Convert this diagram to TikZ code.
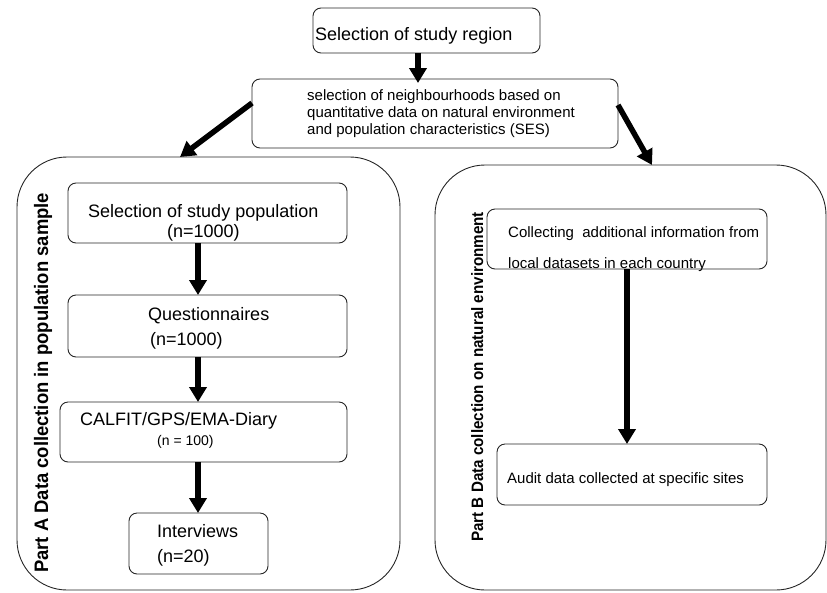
\documentclass[tikz,border=0pt]{standalone}
\usepackage{fontspec}
\setmainfont{Liberation Sans}
\newfontfamily\partAfont[FakeStretch=0.945]{Liberation Sans}
\newfontfamily\partBfont[FakeStretch=0.92]{Liberation Sans}
\usetikzlibrary{arrows.meta}

\tikzset{
  box/.style={draw=black!85, line width=0.9pt, rounded corners=8pt,
              inner sep=0pt, outer sep=0pt, minimum width=#1},
  panel/.style={draw=black!85, line width=0.9pt, rounded corners=50pt,
                inner sep=0pt, outer sep=0pt},
  arr/.style={line width=5.5pt, -{Triangle[width=17pt,length=15pt]}},
  txt/.style={anchor=base west, inner sep=0pt, font=\fontsize{#1}{#1}\selectfont},
  txt/.default=18,
  vlabel/.style={anchor=base west, inner sep=0pt, rotate=90}
}

\begin{document}
\begin{tikzpicture}[x=1pt, y=-1pt]
  \useasboundingbox (0,0) rectangle (827,592);

  % top row
  \node[box=227pt, minimum height=45pt] (top) at (426.5,30.5) {};
  \node[box=366pt, minimum height=69pt] (sel) at (435,113.5) {};

  % the two panels
  \node[panel, minimum width=383pt, minimum height=433pt] (partA) at (208.5,373.5) {};
  \node[panel, minimum width=391pt, minimum height=425pt] (partB) at (630.5,377.5) {};

  % part A steps
  \node[box=279pt, minimum height=60pt] (a1) at (207.5,213) {};
  \node[box=279pt, minimum height=62pt] (a2) at (207.5,326) {};
  \node[box=287pt, minimum height=60pt] (a3) at (203.5,432) {};
  \node[box=139pt, minimum height=61pt] (a4) at (198.5,543.5) {};

  % part B steps
  \node[box=280pt, minimum height=60pt] (b1) at (627,239) {};
  \node[box=270pt, minimum height=61pt] (b2) at (632,474.5) {};

  % texts
  \node[txt=18] (topT) at (315,40) {Selection of study region};
  \node[txt=15] (selT1) at (307,100) {selection of neighbourhoods based on};
  \node[txt=15] (selT2) at (307,117) {quantitative data on natural environment};
  \node[txt=15] (selT3) at (307,134) {and population characteristics (SES)};

  \node[txt=18] (a1T1) at (88,217) {Selection of study population};
  \node[txt=18] (a1T2) at (167,237) {(n=1000)};
  \node[txt=18] (a2T1) at (148,320) {Questionnaires};
  \node[txt=18] (a2T2) at (150,345) {(n=1000)};
  \node[txt=18] (a3T1) at (80,425) {CALFIT/GPS/EMA-Diary};
  \node[txt=14] (a3T2) at (157,445) {(n = 100)};
  \node[txt=18] (a4T1) at (157,537) {Interviews};
  \node[txt=18] (a4T2) at (157,562) {(n=20)};

  \node[txt=15] (b1T1) at (508,237) {Collecting\ \ additional information from};
  \node[txt=15] (b1T2) at (508,268) {local datasets in each country};
  \node[txt=15] (b2T) at (507,483) {Audit data collected at specific sites};

  % panel titles
  \node[vlabel, font=\partAfont\bfseries\fontsize{19.5}{19.5}\selectfont] (partAT) at (48,573)
    {Part A Data collection in population sample};
  \node[vlabel, font=\partBfont\bfseries\fontsize{16.5}{16.5}\selectfont] (partBT) at (483,542)
    {Part B Data collection on natural environment};

  % connectors
  \draw[arr] ([xshift=-8.5pt]top.south) -- ([xshift=-17pt,yshift=-4pt]sel.north);
  \draw[arr] ([yshift=10.5pt]sel.west) -- ([xshift=-28.5pt]partA.north);
  \draw[arr] ([yshift=8.5pt]sel.east) -- ([xshift=21.5pt]partB.north);

  \draw[arr] ([xshift=-9.5pt]a1.south) -- ([xshift=-9.5pt]a2.north);
  \draw[arr] ([xshift=-9.5pt]a2.south) -- ([xshift=-5.5pt]a3.north);
  \draw[arr] ([xshift=-5.5pt]a3.south) -- ([xshift=-0.5pt]a4.north);

  \draw[arr] (b1.south) -- ([xshift=-5pt]b2.north);
\end{tikzpicture}
\end{document}
